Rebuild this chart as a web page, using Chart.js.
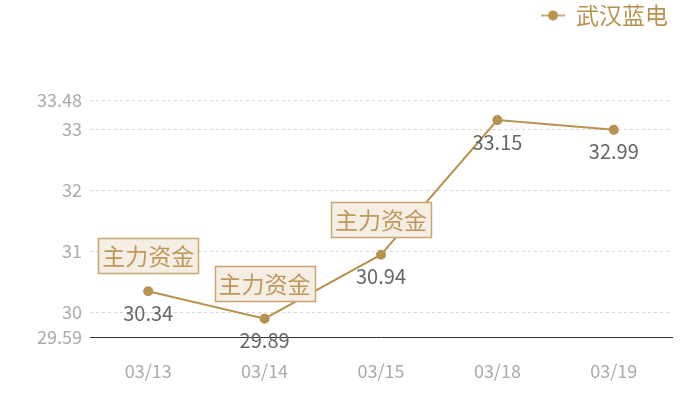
<!DOCTYPE html>
<html>
<head>
<meta charset="utf-8">
<script src="https://cdn.jsdelivr.net/npm/chart.js@4/dist/chart.umd.min.js"></script>
<style>
  html, body { margin: 0; padding: 0; background: #fff; }
  #wrap { width: 700px; height: 400px; }
</style>
</head>
<body>
<div id="wrap"><canvas id="chart"></canvas></div>
<script>
const categories = ['03/13', '03/14', '03/15', '03/18', '03/19'];
const prices = [30.34, 29.89, 30.94, 33.15, 32.99];
const yTicks = [29.59, 30, 31, 32, 33, 33.48];
const seriesName = '武汉蓝电';
const flagText = '主力资金';
const flagged = [0, 1, 2];

const gold = '#b8924f';
const font = '"Noto Sans CJK SC", "Noto Sans", sans-serif';

// legend marker: short line with a dot
const marker = document.createElement('canvas');
marker.width = 24; marker.height = 12;
(function () {
    const c = marker.getContext('2d');
    c.strokeStyle = gold; c.lineWidth = 1.5;
    c.beginPath(); c.moveTo(0, 6); c.lineTo(24, 6); c.stroke();
    c.fillStyle = gold;
    c.beginPath(); c.arc(12, 6, 5, 0, Math.PI * 2); c.fill();
})();

// push the plot down: legend takes a fixed band at the top
const legendSpace = {
    id: 'legendSpace',
    beforeInit(chart) {
        const lg = chart.legend;
        if (!lg) return;
        const fit = lg.fit;
        lg.fit = function () {
            fit.call(this);
            this.height = 100;
        };
    }
};

const markPlugin = {
    id: 'marks',
    afterDatasetsDraw(chart) {
        const ctx = chart.ctx;
        const pts = chart.getDatasetMeta(0).data;
        ctx.save();
        ctx.textAlign = 'center';
        ctx.textBaseline = 'middle';
        ctx.font = '20px ' + font;
        ctx.fillStyle = '#666';
        pts.forEach((p, i) => ctx.fillText(prices[i].toFixed(2), p.x, p.y + 22));

        ctx.font = '23px ' + font;
        flagged.forEach(i => {
            const p = pts[i];
            const w = 100, h = 35;
            const x = Math.round(p.x - w / 2) + 0.5, y = Math.round(p.y - 18 - h) + 0.5;
            ctx.fillStyle = '#f4eee5';
            ctx.fillRect(x, y, w, h);
            ctx.strokeStyle = '#c9a66f';
            ctx.lineWidth = 1.5;
            ctx.strokeRect(x, y, w, h);
            ctx.fillStyle = '#c0975a';
            ctx.fillText(flagText, p.x, y + h / 2);
        });
        ctx.restore();
    }
};

new Chart(document.getElementById('chart'), {
    type: 'line',
    data: {
        labels: categories,
        datasets: [{
            label: seriesName,
            data: prices,
            borderColor: gold,
            backgroundColor: gold,
            borderWidth: 2,
            pointRadius: 4,
            pointHoverRadius: 4,
            tension: 0
        }]
    },
    options: {
        responsive: true,
        maintainAspectRatio: false,
        animation: false,
        layout: { padding: { top: 0, right: 28, left: 0, bottom: 0 } },
        plugins: {
            tooltip: { enabled: false },
            legend: {
                align: 'end',
                labels: {
                    usePointStyle: true,
                    pointStyle: marker,
                    color: gold,
                    font: { size: 23, family: font },
                    padding: 4
                }
            }
        },
        scales: {
            x: {
                offset: true,
                grid: { display: false, drawTicks: false },
                border: { display: true, color: '#333', width: 1 },
                ticks: { color: '#aaa', font: { size: 18, family: font }, padding: 23 },
                afterFit(scale) { scale.height = 63; }
            },
            y: {
                min: 29.59,
                max: 33.48,
                afterBuildTicks(scale) { scale.ticks = yTicks.map(v => ({ value: v })); },
                grid: { color: '#d6d6d6', drawTicks: false },
                border: { display: false, dash: [3, 3] },
                ticks: {
                    color: '#aaa',
                    font: { size: 18, family: font },
                    padding: 8,
                    callback: v => String(v)
                },
                afterFit(scale) { scale.width = 90; }
            }
        }
    },
    plugins: [legendSpace, markPlugin]
});
</script>
</body>
</html>
